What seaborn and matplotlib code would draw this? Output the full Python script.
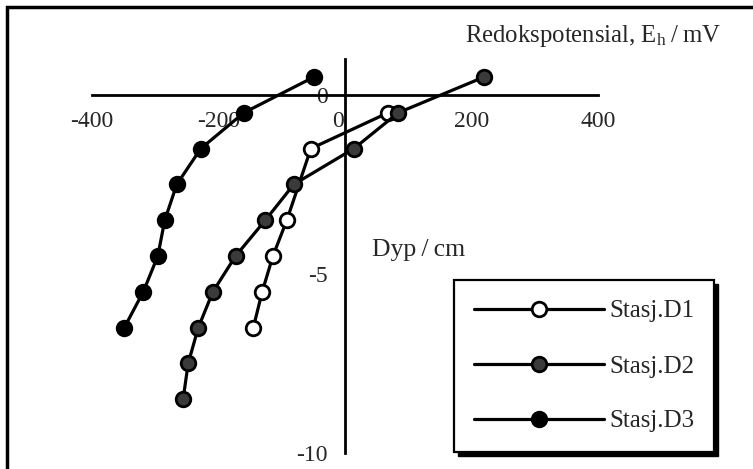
import pandas as pd
import matplotlib
matplotlib.use("Agg")
import matplotlib.pyplot as plt
from matplotlib.patches import Rectangle
from matplotlib.ticker import MultipleLocator
import matplotlib.transforms as mtrans
import seaborn as sns

# Data
dyp_d1 = [-0.5, -1.5, -3.5, -4.5, -5.5, -6.5]
eh_d1 = [68, -54, -92, -114, -131, -145]

dyp_d2 = [0.5, -0.5, -1.5, -2.5, -3.5, -4.5, -5.5, -6.5, -7.5, -8.5]
eh_d2 = [220, 84, 14, -81, -126, -173, -209, -232, -248, -256]

dyp_d3 = [0.5, -0.5, -1.5, -2.5, -3.5, -4.5, -5.5, -6.5]
eh_d3 = [-49, -160, -228, -266, -285, -296, -319, -349]

sns.set_style("white")
plt.rcParams["font.family"] = ["Liberation Serif", "DejaVu Serif"]
plt.rcParams["mathtext.default"] = "regular"
plt.rcParams["axes.unicode_minus"] = False

fig = plt.figure(figsize=(7.53, 4.69), dpi=100)
ax = fig.add_axes([0.1222, 0.0341, 0.672, 0.840])

serier = [
    ("Stasj.D1", eh_d1, dyp_d1, "white"),
    ("Stasj.D2", eh_d2, dyp_d2, "#3a3a3a"),
    ("Stasj.D3", eh_d3, dyp_d3, "black"),
]
for navn, x, y, fc in serier:
    df = pd.DataFrame({"Eh": x, "Dyp": y})
    sns.lineplot(x="Eh", y="Dyp", data=df, sort=False, ax=ax, color="black",
                 lw=2.3, marker="o", markersize=10.5, markerfacecolor=fc,
                 markeredgecolor="black", markeredgewidth=2.0, label=navn)

ax.set_xlim(-400, 400)
ax.set_ylim(-10, 1)
for s in ["top", "right"]:
    ax.spines[s].set_visible(False)
ax.spines["left"].set_position(("data", 0))
ax.spines["bottom"].set_position(("data", 0))
for s in ["left", "bottom"]:
    ax.spines[s].set_linewidth(2.0)
    ax.spines[s].set_color("black")

ax.set_xticks([-400, -200, 0, 200, 400])
ax.set_yticks([-10, -5, 0])
ax.xaxis.set_minor_locator(MultipleLocator(20))
ax.yaxis.set_minor_locator(MultipleLocator(1))
ax.tick_params(which="major", direction="inout", length=9, width=2.0, labelsize=17)
ax.tick_params(axis="x", which="major", pad=7)
ax.tick_params(axis="y", which="major", pad=8)
ax.tick_params(which="minor", direction="inout", length=3, width=1.2)
ax.set_xlabel("")
ax.set_ylabel("")

# x-etiketten "0" står litt til venstre for y-aksen
fig.canvas.draw()
for lab in ax.get_xticklabels():
    if lab.get_text() == "0":
        lab.set_transform(lab.get_transform() + mtrans.ScaledTranslation(-7 / 100, 0, fig.dpi_scale_trans))

fig.text(465 / 753, 1 - 36 / 469, "Redokspotensial, E$_{h}$\u2009/\u2009mV", fontsize=17.8,
         ha="left", va="center")
fig.text(372 / 753, 1 - 250 / 469, "Dyp\u2009/\u2009cm", fontsize=18.5, ha="left", va="center")

leg = ax.legend(loc="upper left", bbox_to_anchor=(454 / 753, 1 - 280 / 469),
                bbox_transform=fig.transFigure, fontsize=18, frameon=True,
                fancybox=False, shadow=False, framealpha=1,
                handlelength=5.2, handletextpad=0.2, labelspacing=1.3,
                borderpad=0.8, borderaxespad=0)
leg.get_frame().set_edgecolor("black")
leg.get_frame().set_linewidth(1.6)
leg.get_frame().set_facecolor("white")
leg.set_zorder(10)

# skygge bak legenden
fig.canvas.draw()
bb = leg.get_window_extent().transformed(fig.transFigure.inverted())
dx, dy = 4 / 753, 4 / 469
ax.add_patch(Rectangle((bb.x0 + dx, bb.y0 - dy), bb.width, bb.height,
                       transform=fig.transFigure, facecolor="black",
                       edgecolor="black", zorder=9, clip_on=False))

# ramme rundt hele figuren (kun venstre og topp synlig)
fig.patches.append(Rectangle((7 / 753, -0.2), 1.2, 1.2 - 7 / 469,
                             transform=fig.transFigure, fill=False,
                             edgecolor="black", lw=2.5))

fig.savefig("out.png", dpi=100)
